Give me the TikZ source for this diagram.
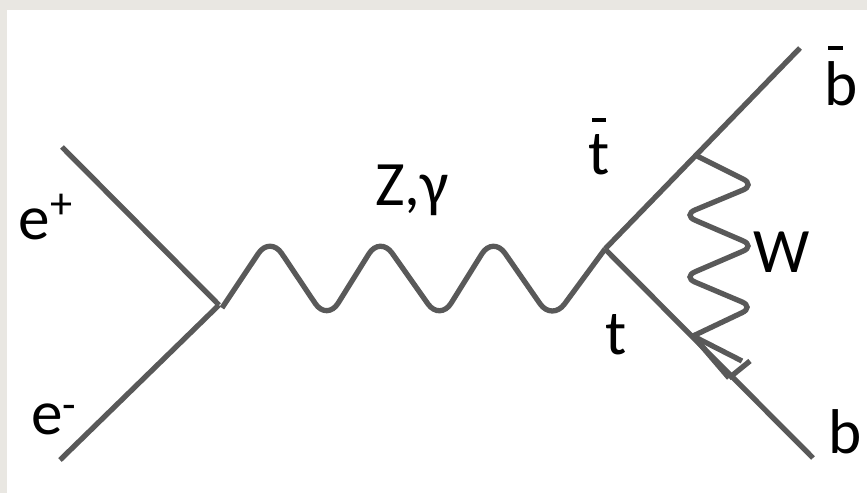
\documentclass[tikz,border=0pt]{standalone}
\usepackage{fontspec}
\setmainfont{Carlito}
\usetikzlibrary{positioning}
\definecolor{linegray}{HTML}{595959}
\definecolor{pagegray}{HTML}{E9E7E2}
\tikzset{
  line/.style={draw=linegray, line width=3pt},
  wave/.style={line, rounded corners=0.42cm},
  wwave/.style={line, rounded corners=0.26cm},
  lbl/.style={font=\fontsize{36}{42}\selectfont, inner sep=0pt, anchor=base, text=black},
}
\begin{document}
\begin{tikzpicture}[x=0.02cm, y=-0.02cm]
    \useasboundingbox (0,0) rectangle (867,493);
    \fill[pagegray] (0,0) rectangle (867,493);
    \fill[white] (7,10) rectangle (867,493);
    % vertices and free ends
    \coordinate (ep) at (62,147);
    \coordinate (em) at (60,460);
    \coordinate (vl) at (219,305);
    \coordinate (zs) at (222,308);
    \coordinate (vr) at (605,249);
    \coordinate (bb) at (800,48);
    \coordinate (bq) at (813,458);
    \coordinate (wt) at (695,155);
    \coordinate (wb) at (693,336);
    \coordinate (tipa) at (742,361);
    \coordinate (tipb) at (750,361);
    \coordinate (tipc) at (729,378);
    % fermion lines
    \draw[line] (ep) -- (vl);
    \draw[line] (em) -- (vl);
    \draw[line] (vr) -- (bb);
    \draw[line] (vr) -- (bq);
    % Z, gamma line
    \draw[wave] (zs) -- (270,236) -- (327,321) -- (380,236) -- (440,321)
                -- (493,236) -- (552,321) -- (vr);
    % W line
    \draw[wwave] (wt) -- (755,185) -- (683,215) -- (755,246)
                -- (683,277) -- (754,307) -- (wb);
    % arrow head
    \draw[line] (wb) -- (tipa);
    \draw[line] (wb) -- (tipc);
    \draw[line] (tipb) -- (tipc);
    % labels
    \node[lbl] (lep) at (46,240) {e\raisebox{0.12cm}{\textsuperscript{+}}};
    \node[lbl] (lem) at (54,435) {e\textsuperscript{-}};
    \node[lbl] (lz) at (412,206) {Z,γ};
    \node[lbl] (ltb) at (599,175) {t};
    \node[lbl] (lbb) at (841,106) {b};
    \node[lbl] (lw) at (782,273) {W};
    \node[lbl] (lt) at (616,355) {t};
    \node[lbl] (lb) at (845,454) {b};
    % bars over the antiquarks
    \fill[black] (592,118) rectangle (606,122);
    \fill[black] (828,46) rectangle (843,50);
\end{tikzpicture}
\end{document}
